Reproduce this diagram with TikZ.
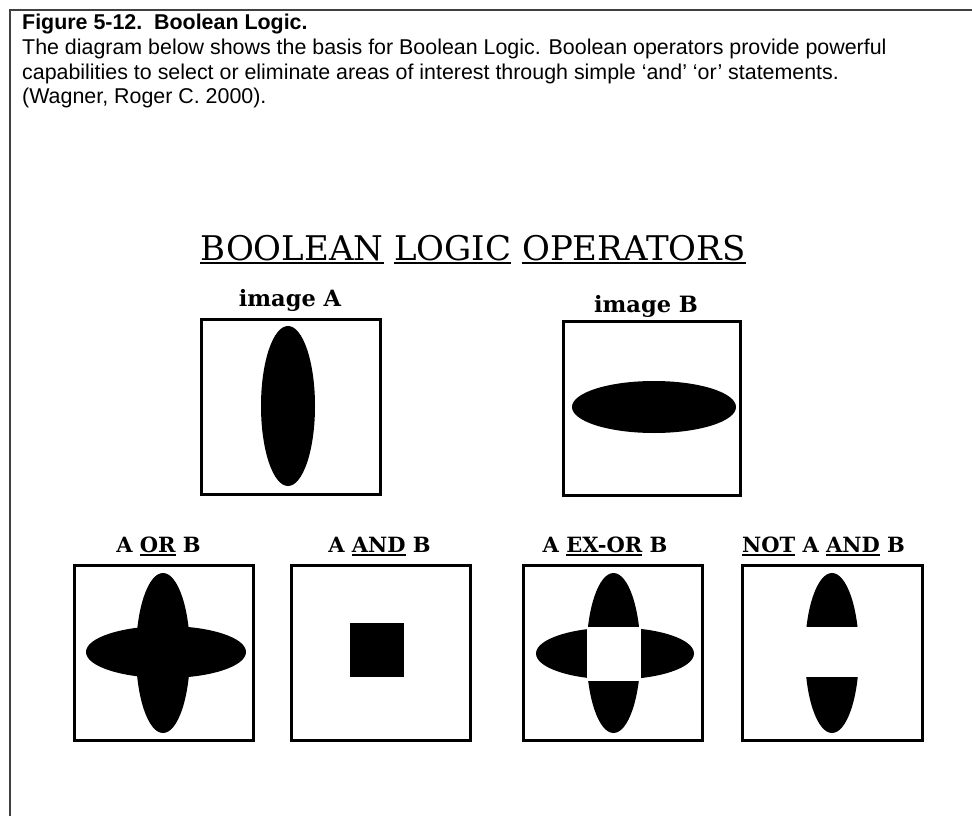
\documentclass[tikz,border=0pt]{standalone}
\usepackage{fontspec}
\setmainfont{Liberation Sans}
\newfontfamily\hdrfont{Liberation Sans}
\newfontfamily\serfont{DejaVu Serif}
\newcommand\myuline[1]{\setbox0=\hbox{#1}\rlap{\rule[-4pt]{\wd0}{2pt}}\box0\relax}
\begin{document}
\begin{tikzpicture}[x=1pt,y=-1pt,
  frame/.style={draw=black!75,line width=1.3pt},
  hdr/.style={anchor=base west,inner sep=0pt,font=\hdrfont\fontsize{21.4}{24.5}\selectfont},
  ttl/.style={anchor=base,inner sep=0pt,font=\serfont\fontsize{34}{40}\selectfont},
  lbl/.style={anchor=base,inner sep=0pt,font=\serfont\bfseries\fontsize{21}{24}\selectfont},
  imglbl/.style={lbl,font=\serfont\bfseries\fontsize{22.5}{26}\selectfont},
  imgbox/.style={draw,line width=3pt,inner sep=0pt,minimum width=179pt,minimum height=175pt},
  blob/.style={fill=black}]
\useasboundingbox (0,0) rectangle (972,816);
% outer frame (top and left edges)
\draw[frame] (972,10) -- (10,10) -- (10,816);
% header text
\node[hdr] (h1) at (22,30) {\bfseries Figure 5-12.\ \ Boolean Logic.};
\node[hdr] (h2) at (22,54.5) {The diagram below shows the basis for Boolean Logic. Boolean operators provide powerful};
\node[hdr] (h3) at (22,79) {capabilities to select or eliminate areas of interest through simple ‘and’ ‘or’ statements.};
\node[hdr] (h4) at (22,103.5) {(Wagner, Roger C. 2000).};
% title
\node[ttl] (title) at (473,260) {\myuline{BOOLEAN} \myuline{LOGIC} \myuline{OPERATORS}};
% image A and B
\node[imglbl] (labA) at (290,306) {image A};
\node[imglbl] (labB) at (646,312) {image B};
\node[imgbox] (boxA) at (291,407) {};
\node[imgbox,minimum width=177pt,minimum height=174pt] (boxB) at (652,408.5) {};
\fill[blob] (288,406) ellipse [x radius=27pt,y radius=80pt];
\fill[blob] (654,407) ellipse [x radius=82pt,y radius=26pt];
% bottom row labels
\node[lbl] (labOR) at (158.5,552) {A \myuline{OR} B};
\node[lbl] (labAND) at (379.5,552) {A \myuline{AND} B};
\node[lbl] (labXOR) at (605,552) {A \myuline{EX-OR} B};
\node[lbl] (labNOT) at (823.5,552) {\myuline{NOT} A \myuline{AND} B};
% bottom row boxes
\node[imgbox] (boxOR) at (164,653) {};
\node[imgbox] (boxAND) at (381,653) {};
\node[imgbox] (boxXOR) at (613,653) {};
\node[imgbox,minimum width=180pt] (boxNOT) at (832.5,653) {};
% A OR B
\fill[blob] (163,653) ellipse [x radius=27pt,y radius=80pt];
\fill[blob] (166,652) ellipse [x radius=80pt,y radius=26pt];
% A AND B
\fill[blob] (350,623) rectangle (404,677);
% A EX-OR B
\fill[blob] (613.5,653) ellipse [x radius=27pt,y radius=80pt];
\fill[blob] (615,653.5) ellipse [x radius=79pt,y radius=26pt];
\fill[white] (586.5,626.5) rectangle (640.5,680.5);
% NOT A AND B
\fill[blob] (832,653) ellipse [x radius=27pt,y radius=80pt];
\fill[white] (800,627) rectangle (865,677);
\end{tikzpicture}
\end{document}
